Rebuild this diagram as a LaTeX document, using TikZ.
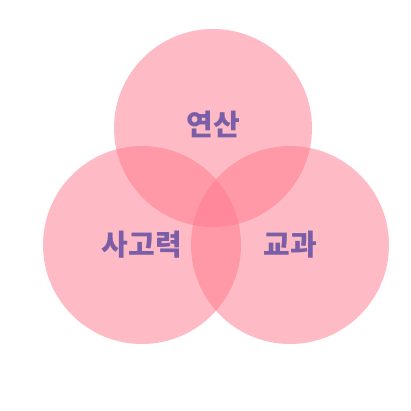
\documentclass[tikz,border=0pt]{standalone}
\usepackage{fontspec}
\newfontfamily\kr{Noto Sans CJK KR}
\usepackage{tikz}
\definecolor{vennpink}{RGB}{255,120,140}
\definecolor{labelpurple}{RGB}{122,94,168}
\tikzstyle{venn} = [circle, minimum size = 198pt, inner sep=0pt, fill = vennpink, fill opacity=0.5]
\tikzstyle{word} = [text = labelpurple, font = \kr\bfseries\fontsize{29}{32}\selectfont]

\begin{document}
\begin{tikzpicture}[x=1pt, y=-1pt]

\useasboundingbox (0,0) rectangle (411,411);

\node(topcircle)   [venn] at (213,128) {};
\node(leftcircle)  [venn] at (142,245) {};
\node(rightcircle) [venn] at (290,245) {};

\node(yeonsan) [word] at (213,124) {연산};
\node(sagoryeok) [word] at (142,245) {사고력};
\node(gyogwa) [word] at (290,245) {교과};

\end{tikzpicture}
\end{document}
